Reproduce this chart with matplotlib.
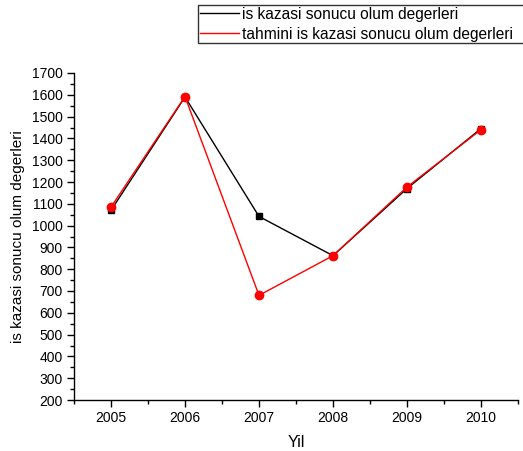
import matplotlib
matplotlib.use("Agg")
import matplotlib.pyplot as plt
from matplotlib.lines import Line2D
from matplotlib.ticker import MultipleLocator

plt.rcParams['font.family'] = ['Liberation Sans', 'DejaVu Sans']

years = [2005, 2006, 2007, 2008, 2009, 2010]
actual = [1070, 1590, 1042, 862, 1170, 1445]
predicted = [1085, 1592, 680, 862, 1177, 1440]
label_actual = "is kazasi sonucu olum degerleri"
label_pred = "tahmini is kazasi sonucu olum degerleri"

fig = plt.figure(figsize=(5.23, 4.51), dpi=100)
ax = fig.add_axes([74/523, 1-400/451, (518-74)/523, (400-73)/451])

ax.plot(years, actual, color='black', lw=1.0, marker='s', ms=5, mec='black', mfc='black')
ax.plot(years, predicted, color='red', lw=1.0, marker='o', ms=6, mec='red', mfc='red')

ax.set_xlim(2004.5, 2010.5)
ax.set_ylim(200, 1700)
ax.xaxis.set_major_locator(MultipleLocator(1))
ax.xaxis.set_minor_locator(MultipleLocator(0.5))
ax.yaxis.set_major_locator(MultipleLocator(100))
ax.yaxis.set_minor_locator(MultipleLocator(50))
ax.xaxis.set_major_formatter(matplotlib.ticker.FuncFormatter(lambda v, p: f"{int(round(v))}"))

for s in ['top', 'right']:
    ax.spines[s].set_visible(False)
for s in ['left', 'bottom']:
    ax.spines[s].set_linewidth(1.0)
ax.tick_params(which='major', direction='out', length=5, width=1, labelsize=10, pad=3)
ax.tick_params(which='minor', direction='out', length=3, width=1)

ax.set_xlabel("Yil", fontsize=11.5, labelpad=7)
ax.set_ylabel(label_actual, fontsize=11, labelpad=5)

handles = [Line2D([], [], color='black', lw=1.0), Line2D([], [], color='red', lw=1.0)]
leg = fig.legend(handles, [label_actual, label_pred], loc='upper left',
                 bbox_to_anchor=(198/523, 1-5/451, 330/523, 0), mode='expand',
                 fontsize=11.2, frameon=True,
                 fancybox=False, borderpad=0.12, labelspacing=0.3,
                 handlelength=2.5, handletextpad=0.2, borderaxespad=0)
leg.get_frame().set_edgecolor('black')
leg.get_frame().set_linewidth(1.0)

fig.savefig("out.png", dpi=100)
